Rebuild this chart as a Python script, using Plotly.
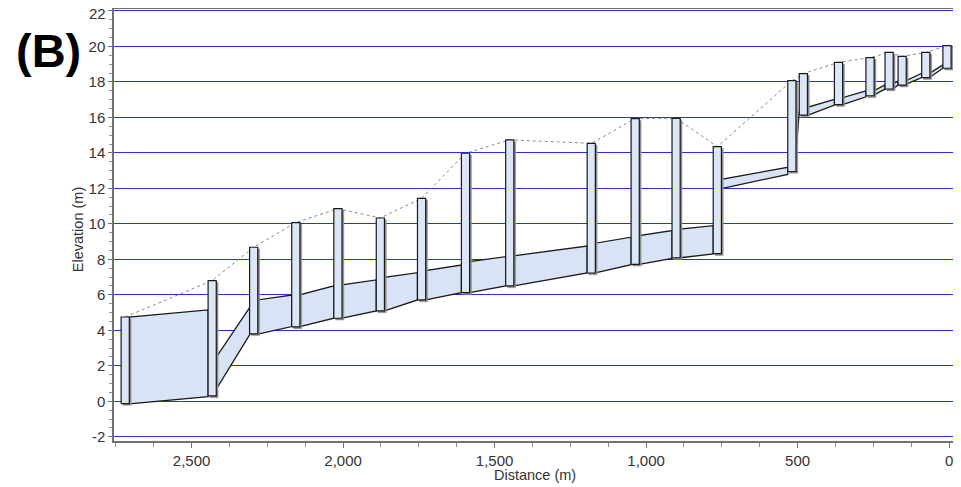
import plotly.graph_objects as go

# ---- data ----
node_dist = [2719, 2432, 2295, 2156, 2017, 1877, 1741, 1596, 1450, 1181, 1036,
             901, 765, 519, 481, 365, 261, 198, 155, 77, 7]
node_rim = [4.75, 6.80, 8.68, 10.07, 10.86, 10.33, 11.44, 13.98, 14.73, 14.54, 15.93,
            15.95, 14.35, 18.07, 18.47, 19.10, 19.37, 19.66, 19.44, 19.66, 20.05]
node_invert = [-0.13, 0.30, 3.80, 4.19, 4.68, 5.09, 5.71, 6.12, 6.50, 7.23, 7.72,
               8.09, 8.32, 12.95, 16.13, 16.72, 17.22, 17.60, 17.82, 18.24, 18.77]

# conduits between consecutive nodes (left end -> right end)
link_inv_left = [-0.15, 0.68, 3.78, 4.21, 4.68, 5.09, 5.71, 6.12, 6.50, 7.23,
                 7.72, 8.09, 11.99, 14.00, 16.12, 16.72, 17.27, 17.62, 17.87, 18.26]
link_inv_right = [0.26, 3.74, 4.21, 4.68, 5.09, 5.71, 6.12, 6.50, 7.23, 7.70,
                  8.05, 8.30, 12.79, 16.10, 16.69, 17.16, 17.59, 17.82, 18.24, 18.77]
link_crown_left = [4.75, 2.48, 5.71, 6.00, 6.56, 6.99, 7.36, 7.87, 8.20, 8.91,
                   9.34, 9.71, 12.51, 14.45, 16.57, 17.11, 17.51, 17.88, 18.07, 18.49]
link_crown_right = [5.15, 5.28, 5.99, 6.50, 6.84, 7.25, 7.68, 8.15, 8.75, 9.25,
                    9.62, 9.90, 13.19, 16.35, 17.01, 17.49, 17.83, 18.05, 18.49, 18.96]

x_ticks = [0, 500, 1000, 1500, 2000, 2500]
y_ticks = list(range(-2, 23, 2))
y_top_tick = y_ticks[-1]

# ---- styles ----
HW = 13.5           # half width of a manhole box (m)
SH_DX, SH_DY = 6.0, 0.10
FILL = "#d8e4f6"
EDGE = "#1a1a1a"

fig = go.Figure()

# conduits
cx, cy = [], []
for i in range(len(link_inv_left)):
    xl = node_dist[i] - HW
    xr = node_dist[i + 1] + HW
    cx += [xl, xr, xr, xl, xl, None]
    cy += [link_inv_left[i], link_inv_right[i], link_crown_right[i],
           link_crown_left[i], link_inv_left[i], None]
fig.add_trace(go.Scatter(x=cx, y=cy, mode="lines", fill="toself",
                         fillcolor=FILL, line=dict(color=EDGE, width=1.3),
                         hoverinfo="skip", showlegend=False))

# ground line
fig.add_trace(go.Scatter(x=node_dist, y=node_rim, mode="lines",
                         line=dict(color="#8a8a8a", width=1, dash="dot"),
                         hoverinfo="skip", showlegend=False))

# node shadows
sx, sy = [], []
for d, r, v in zip(node_dist, node_rim, node_invert):
    x0, x1 = d + HW - SH_DX, d - HW - SH_DX
    sx += [x0, x1, x1, x0, x0, None]
    sy += [v - SH_DY, v - SH_DY, r - SH_DY, r - SH_DY, v - SH_DY, None]
fig.add_trace(go.Scatter(x=sx, y=sy, mode="lines", fill="toself",
                         fillcolor="#8c8c8c", line=dict(color="#8c8c8c", width=0.5),
                         hoverinfo="skip", showlegend=False))

# nodes
nx, ny = [], []
for d, r, v in zip(node_dist, node_rim, node_invert):
    x0, x1 = d + HW, d - HW
    nx += [x0, x1, x1, x0, x0, None]
    ny += [v, v, r, r, v, None]
fig.add_trace(go.Scatter(x=nx, y=ny, mode="lines", fill="toself",
                         fillcolor="#dbe6f7", line=dict(color=EDGE, width=1.2),
                         hoverinfo="skip", showlegend=False))

font = "Liberation Sans, Arial, sans-serif"
TXT = "#333333"
# top tick label drawn as an annotation nudged down so the page edge doesn't cut it
y_ticktext = [str(v) if v != y_top_tick else "" for v in y_ticks]

# the page body has an 8px margin, so the figure is sized to fit the window
fig.update_layout(
    width=953, height=479,
    margin=dict(l=106, r=4, t=1, b=46, autoexpand=False),
    paper_bgcolor="white", plot_bgcolor="white",
    font=dict(family=font, size=15, color=TXT),
    xaxis=dict(range=[2756, -26], tickvals=x_ticks, tickformat=",d",
               automargin=False, ticklabeloverflow="allow",
               showgrid=False, zeroline=False,
               showline=True, mirror=True, linecolor="#707070", linewidth=1.5,
               ticks="outside", ticklen=5, tickcolor="#707070",
               minor=dict(dtick=125, ticks="outside", ticklen=4, tickcolor="#909090")),
    yaxis=dict(range=[-2.24, 22.11], tickvals=y_ticks, ticktext=y_ticktext,
               automargin=False, ticklabeloverflow="allow",
               showgrid=True, gridcolor="#2a2aff", gridwidth=1, zeroline=False,
               showline=True, mirror=True, linecolor="#707070", linewidth=1.5,
               ticks="outside", ticklen=4, tickcolor="#707070",
               minor=dict(dtick=0.5, ticks="outside", ticklen=3, tickcolor="#909090",
                          showgrid=False)),
    annotations=[
        dict(text="<b>(B)</b>", xref="paper", yref="paper",
             x=-0.1186, y=0.905, xanchor="left", yanchor="middle",
             showarrow=False, font=dict(family=font, size=47, color="black")),
        dict(text="Distance (m)", xref="paper", yref="paper",
             x=0.4994, y=-0.0787, xanchor="center", yanchor="middle",
             showarrow=False, font=dict(family=font, size=14.5, color=TXT)),
        dict(text="Elevation (m)", xref="paper", yref="paper", textangle=-90,
             x=-0.0427, y=0.488, xanchor="center", yanchor="middle",
             showarrow=False, font=dict(family=font, size=14.5, color=TXT)),
        dict(text=str(y_top_tick), xref="paper", yref="y",
             x=0, y=y_top_tick, xshift=-6, yshift=-3,
             xanchor="right", yanchor="middle", showarrow=False,
             font=dict(family=font, size=15, color=TXT)),
    ],
)

fig.write_html("out.html")
